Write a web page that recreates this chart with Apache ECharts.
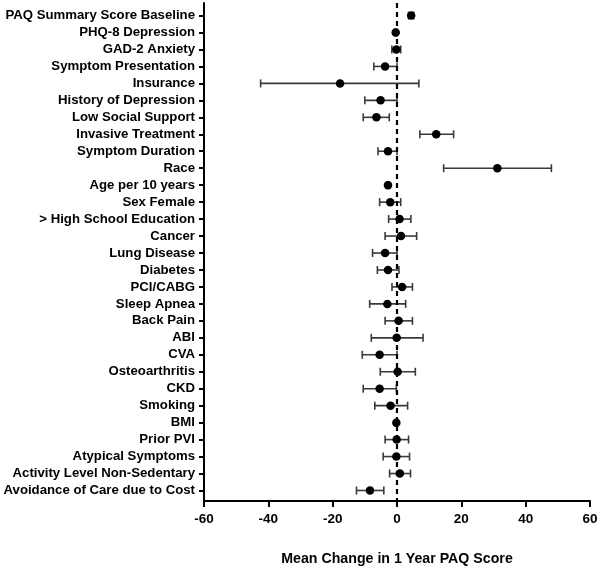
<!DOCTYPE html>
<html>
<head>
<meta charset="utf-8">
<script src="https://cdn.jsdelivr.net/npm/echarts@6/dist/echarts.min.js"></script>
<style>html,body{margin:0;padding:0;background:#fff;}#c{width:600px;height:569px;}</style>
</head>
<body>
<div id="c"></div>
<script>
var categories = ["PAQ Summary Score Baseline","PHQ-8 Depression","GAD-2 Anxiety","Symptom Presentation","Insurance","History of Depression","Low Social Support","Invasive Treatment","Symptom Duration","Race","Age per 10 years","Sex Female","> High School Education","Cancer","Lung Disease","Diabetes","PCI/CABG","Sleep Apnea","Back Pain","ABI","CVA","Osteoarthritis","CKD","Smoking","BMI","Prior PVI","Atypical Symptoms","Activity Level Non-Sedentary","Avoidance of Care due to Cost"];
var means = [4.4,-0.4,-0.2,-3.7,-17.7,-5.1,-6.4,12.2,-2.8,31.2,-2.8,-2.1,0.8,1.25,-3.7,-2.8,1.6,-3.0,0.5,-0.1,-5.4,0.2,-5.4,-2.0,-0.2,-0.1,-0.2,0.9,-8.4];
var lower = [3.6,-0.8,-1.6,-7.2,-42.4,-10.0,-10.5,7.1,-5.9,14.5,-3.2,-5.4,-2.6,-3.7,-7.6,-6.1,-1.55,-8.5,-3.7,-8.0,-10.8,-5.2,-10.5,-6.9,-0.6,-3.7,-4.3,-2.3,-12.6];
var upper = [5.2,0.0,1.15,0.0,6.8,0.0,-2.4,17.6,0.0,48.0,-2.4,1.15,4.3,6.1,0.0,0.6,4.8,2.7,4.8,8.1,0.0,5.7,-0.2,3.3,0.2,3.6,3.9,4.2,-4.1];
var xTicks = [-60,-40,-20,0,20,40,60];
var xTitle = "Mean Change in 1 Year PAQ Score";

var idx = categories.map(function(_, i){ return i; });
var errData = categories.map(function(_, i){ return [lower[i], upper[i], i]; });
var ptData = categories.map(function(_, i){ return [means[i], i]; });

var chart = echarts.init(document.getElementById('c'), null, {renderer:'canvas'});
var FONT = '"Liberation Sans", Arial, sans-serif';
chart.setOption({
  animation: false,
  backgroundColor: '#fff',
  grid: {left: 204, right: 10, top: 3, bottom: 68, containLabel: false, outerBoundsMode: 'none'},
  xAxis: {
    type: 'value', position: 'bottom', min: xTicks[0], max: xTicks[xTicks.length-1], interval: 20,
    axisLine: {show: true, onZero: false, lineStyle: {color: '#000', width: 2}},
    axisTick: {show: true, length: 6, lineStyle: {color: '#000', width: 2}},
    axisLabel: {color: '#000', fontFamily: FONT, fontWeight: 'bold', fontSize: 13.5, margin: 11},
    splitLine: {show: false},
    name: xTitle, nameLocation: 'middle', nameGap: 51,
    nameTextStyle: {color: '#000', fontFamily: FONT, fontWeight: 'bold', fontSize: 14.2}
  },
  yAxis: {
    type: 'value', position: 'left', inverse: true, min: -0.74, max: 28.62,
    axisLine: {show: true, onZero: false, lineStyle: {color: '#000', width: 2}},
    axisTick: {show: true, length: 5, lineStyle: {color: '#000', width: 2}, customValues: idx},
    axisLabel: {color: '#000', fontFamily: FONT, fontWeight: 'bold', fontSize: 13.2, margin: 9,
      customValues: idx,
      formatter: function(v){ var i = Math.round(v); return categories[i] || ''; }},
    splitLine: {show: false}
  },
  series: [
    {
      type: 'custom',
      data: errData,
      encode: {x: [0,1], y: 2},
      renderItem: function(params, api){
        var a = api.coord([api.value(0), api.value(2)]);
        var b = api.coord([api.value(1), api.value(2)]);
        var h = 4;
        var st = {stroke: '#3a3a3a', lineWidth: 1.6};
        return {type: 'group', children: [
          {type: 'line', shape: {x1: a[0], y1: a[1], x2: b[0], y2: b[1]}, style: st},
          {type: 'line', shape: {x1: a[0], y1: a[1]-h, x2: a[0], y2: a[1]+h}, style: st},
          {type: 'line', shape: {x1: b[0], y1: b[1]-h, x2: b[0], y2: b[1]+h}, style: st}
        ]};
      },
      z: 3
    },
    {
      type: 'scatter',
      data: ptData,
      symbol: 'circle',
      symbolSize: 8.5,
      itemStyle: {color: '#000', opacity: 1},
      z: 4,
      markLine: {
        silent: true, symbol: 'none', label: {show: false},
        lineStyle: {color: '#000', type: [5, 4], width: 2.2, opacity: 1},
        data: [{xAxis: 0}]
      }
    }
  ]
});
</script>
</body>
</html>
